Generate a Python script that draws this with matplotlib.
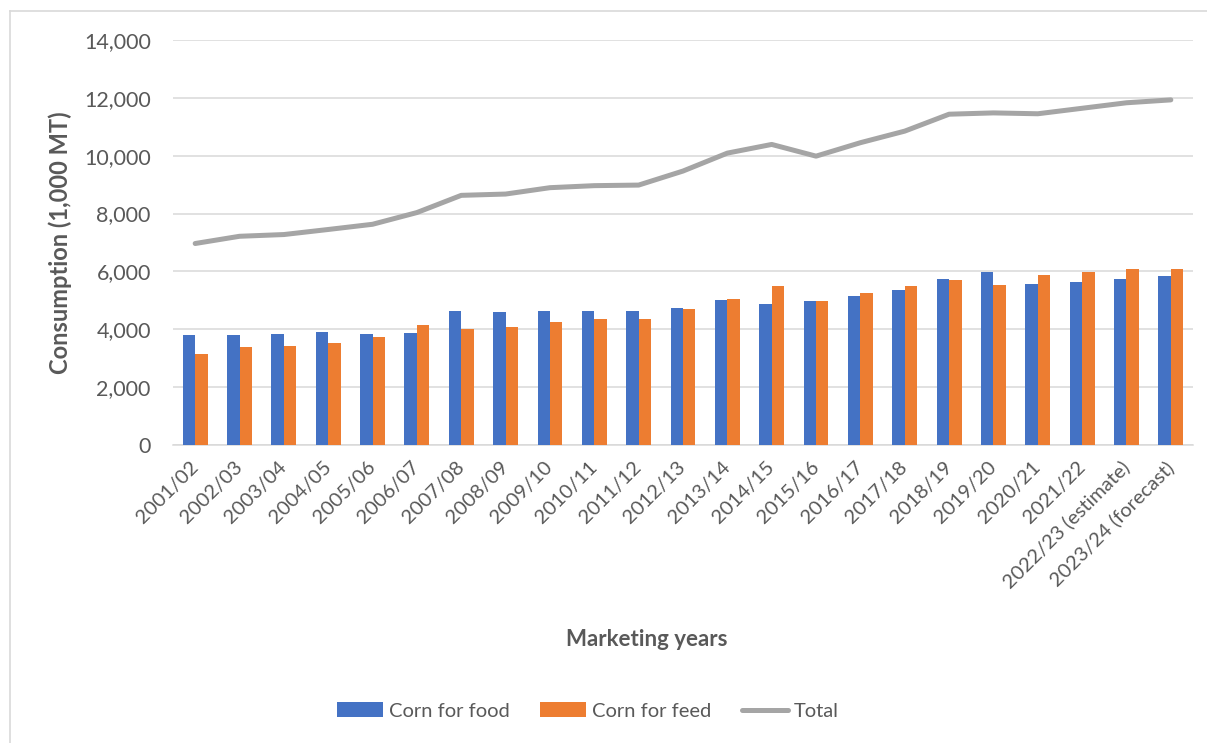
import numpy as np
import matplotlib.pyplot as plt
from matplotlib.lines import Line2D

plt.rcParams['font.family'] = ['Lato', 'DejaVu Sans']

# Marketing years (x categories)
years = ['2001/02', '2002/03', '2003/04', '2004/05', '2005/06', '2006/07',
         '2007/08', '2008/09', '2009/10', '2010/11', '2011/12', '2012/13',
         '2013/14', '2014/15', '2015/16', '2016/17', '2017/18', '2018/19',
         '2019/20', '2020/21', '2021/22', '2022/23 (estimate)',
         '2023/24 (forecast)']

# Consumption, 1,000 MT
corn_food = [3815, 3795, 3825, 3895, 3840, 3860, 4620, 4590, 4630, 4630,
             4620, 4735, 5010, 4870, 4975, 5160, 5355, 5735, 5975, 5560,
             5630, 5735, 5840]
corn_feed = [3140, 3400, 3415, 3525, 3745, 4150, 4000, 4090, 4250, 4345,
             4355, 4690, 5035, 5500, 4975, 5260, 5495, 5690, 5515, 5885,
             5975, 6080, 6080]
total = [6965, 7215, 7275, 7450, 7630, 8035, 8630, 8675, 8895, 8965,
         8985, 9470, 10090, 10390, 9985, 10450, 10850, 11435, 11480, 11450,
         11640, 11830, 11930]

blue = '#4472C4'
orange = '#ED7D31'
grey = '#A5A5A5'
text_c = '#595959'
grid_c = '#D9D9D9'

W, H = 1207, 743
fig = plt.figure(figsize=(W / 100, H / 100), dpi=100)
ax = fig.add_axes([173 / W, 1 - 445 / H, 1020 / W, 405 / H])

x = np.arange(len(years))
bw = 0.28
b1 = ax.bar(x - bw / 2, corn_food, bw, color=blue, label='Corn for food', zorder=3)
b2 = ax.bar(x + bw / 2, corn_feed, bw, color=orange, label='Corn for feed', zorder=3)
l1, = ax.plot(x, total, color=grey, lw=3.6, solid_capstyle='round',
              solid_joinstyle='round', label='Total', zorder=4)

ax.set_xlim(-0.5, len(years) - 0.5)
ax.set_ylim(0, 14000)
ax.set_yticks(np.arange(0, 14001, 2000))
ax.yaxis.set_major_formatter(plt.FuncFormatter(lambda v, p: f'{int(v):,}'))
ax.grid(axis='y', color=grid_c, lw=1.1, zorder=0)
for s in ['top', 'right', 'left']:
    ax.spines[s].set_visible(False)
ax.spines['bottom'].set_color(grid_c)
ax.spines['bottom'].set_linewidth(1.1)

ax.tick_params(axis='both', length=0, labelcolor=text_c)
ax.tick_params(axis='y', pad=16, labelsize=15.5)
ax.set_xticks(x)
ax.set_xticklabels(years, rotation=45, ha='right', va='center',
                   rotation_mode='anchor')
ax.tick_params(axis='x', pad=14, labelsize=14.5)

ax.set_ylabel('Consumption (1,000 MT)', fontsize=17, fontweight='bold',
              color=text_c)
ax.yaxis.set_label_coords(-0.099, 0.5)

fig.text(647 / W, 1 - 640 / H, 'Marketing years', fontsize=16,
         fontweight='bold', color=text_c, ha='center', va='center')

fig.legend(handles=[b1, b2, l1], loc='center',
           bbox_to_anchor=(588 / W, 1 - 711 / H), ncol=3,
           frameon=False, fontsize=14.5, labelcolor=text_c, handlelength=2.3,
           handleheight=0.7, handletextpad=0.3, columnspacing=1.5)

# chart area border (left and top edges visible)
fig.add_artist(Line2D([10 / W, 10 / W], [0, 1 - 11 / H], color=grid_c, lw=1.2))
fig.add_artist(Line2D([10 / W, 1], [1 - 11 / H, 1 - 11 / H], color=grid_c, lw=1.2))

fig.savefig('out.png', dpi=100)
